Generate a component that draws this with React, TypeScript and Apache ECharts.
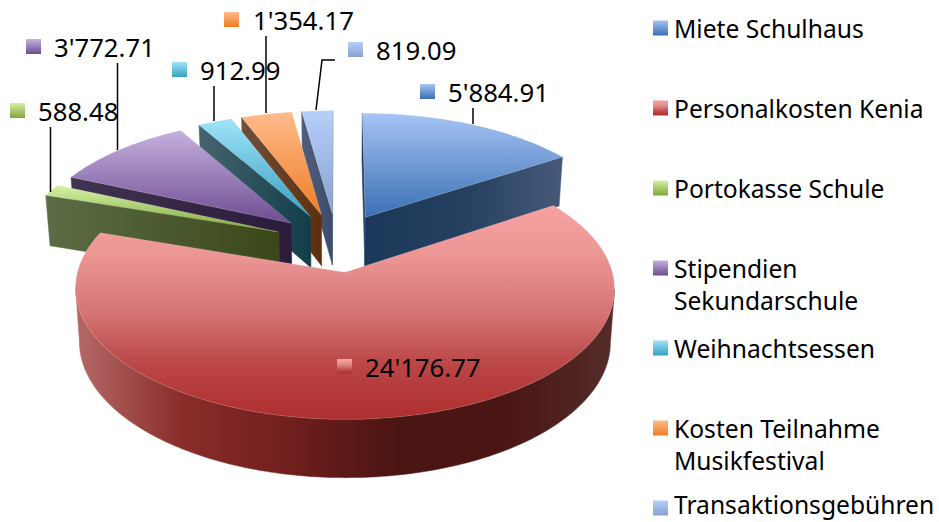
import React, { useEffect, useRef } from "react";
import * as echarts from "echarts";

const categories = ["Miete Schulhaus", "Personalkosten Kenia", "Portokasse Schule", "Stipendien Sekundarschule", "Weihnachtsessen", "Kosten Teilnahme Musikfestival", "Transaktionsgebühren"];
const legendLines = ["Miete Schulhaus", "Personalkosten Kenia", "Portokasse Schule", "Stipendien\nSekundarschule", "Weihnachtsessen", "Kosten Teilnahme\nMusikfestival", "Transaktionsgebühren"];
const values = [5884.91, 24176.77, 588.48, 3772.71, 912.99, 1354.17, 819.09];
const faceColors = [
  ["#a7c4f4", "#3a6fb4"], ["#f8a2a2", "#eb9494", "#d57474", "#bb4545", "#ae2e2e"], ["#d6f2a4", "#7fa63c"], ["#c5b0df", "#6f4c91"],
  ["#a0e3f9", "#36a0c0"], ["#ffbb8c", "#ee7d24"], ["#b7cff9", "#86a2d0"],
];
const wallColors: string[][] = [
  ["#1b3759", "#25405f", "#46597a"],
  ["#b56a68", "#8a2c2a", "#701f1d", "#4a1412", "#4a1614", "#552c2a"],
  ["#5c6c46", "#3a4718"], ["#413352", "#2b1b3b"], ["#46646f", "#113d49"], ["#70503b", "#5e2f0d"], ["#525f7c", "#3c4c6a"],
];
const paintOrder = [0, 6, 5, 4, 3, 2, 1];

// label layout: swatch x, swatch y, text x, leader points
const labelLayout: { sx: number; sy: number; tx: number; leader: number[][] }[] = [
  { sx: 420, sy: 84, tx: 448, leader: [[473, 108], [473, 124]] },
  { sx: 337, sy: 359, tx: 365, leader: [] },
  { sx: 10, sy: 103, tx: 38, leader: [[50.5, 127], [50.5, 192]] },
  { sx: 26, sy: 39, tx: 54, leader: [[117.5, 63], [117.5, 150]] },
  { sx: 172, sy: 62, tx: 200, leader: [[214, 86], [214, 121]] },
  { sx: 224, sy: 12, tx: 253, leader: [[266, 36], [266, 113]] },
  { sx: 348, sy: 42, tx: 376, leader: [[335, 60], [322, 60], [316, 110]] },
];

const FONT = '"Noto Sans", sans-serif';
const LABEL_FS = 25.7;
const LEGEND_FS = 24.6;
const LEGEND_LH = 32;
const CX = 336.5, CY = 242.5, RX = 260, RY = 122, K = 0.118, DEPTH = 52, EXPLODE = 0.24, BOTTOM_SCALE = 1.015;
const total = values.reduce((a, b) => a + b, 0);

const grad = (stops: string[], horizontal = false) =>
  new echarts.graphic.LinearGradient(0, 0, horizontal ? 1 : 0, horizontal ? 0 : 1,
    stops.map((color, i) => ({ offset: i / (stops.length - 1), color })));

const fmt = (v: number) => {
  const [a, b] = v.toFixed(2).split(".");
  return a.replace(/\B(?=(\d{3})+$)/g, "'") + "." + b;
};

const top = (u: number, v: number) => {
  const w = 1 + K * v;
  return [CX + (RX * u) / w, CY - (RY * v) / w];
};
const bottom = (u: number, v: number) => {
  const w = 1 + K * v;
  return [CX + (RX * u) / (w * BOTTOM_SCALE), CY - (RY * v) / (w * BOTTOM_SCALE) + DEPTH / w];
};

function sliceShapes(i: number) {
  const before = values.slice(0, i).reduce((a, b) => a + b, 0);
  const a0 = (before / total) * Math.PI * 2;
  const a1 = ((before + values[i]) / total) * Math.PI * 2;
  const mid = (a0 + a1) / 2;
  const ax = EXPLODE * Math.sin(mid), ay = EXPLODE * Math.cos(mid);
  const n = Math.max(6, Math.ceil(((a1 - a0) * 180) / Math.PI));
  const world: number[][] = [];
  for (let k = 0; k <= n; k++) {
    const t = a0 + ((a1 - a0) * k) / n;
    world.push([ax + Math.sin(t), ay + Math.cos(t)]);
  }
  const apex = [ax, ay];
  const children: any[] = [];
  const wall = (pts: number[][], fill: any) => {
    const poly = [...pts.map((p) => top(p[0], p[1])), ...pts.slice().reverse().map((p) => bottom(p[0], p[1]))];
    children.push({ type: "polygon", shape: { points: poly }, style: { fill, stroke: fill, lineWidth: 0.5 } });
  };
  const wg = grad(wallColors[i], true);
  const first = world[0], last = world[world.length - 1];
  if (top(first[0], first[1])[0] < top(apex[0], apex[1])[0]) wall([apex, first], wg);
  if (top(last[0], last[1])[0] > top(apex[0], apex[1])[0]) wall([last, apex], wg);
  const front: number[][] = [];
  for (let k = 0; k < world.length - 1; k++) {
    const x0 = top(world[k][0], world[k][1])[0], x1 = top(world[k + 1][0], world[k + 1][1])[0];
    if (x1 < x0) {
      if (!front.length) front.push(world[k]);
      front.push(world[k + 1]);
    }
  }
  if (front.length > 1) wall(front, wg);
  const pts = [top(apex[0], apex[1]), ...world.map((p) => top(p[0], p[1]))];
  children.push({
    type: "polygon",
    shape: { points: pts },
    style: { fill: grad(faceColors[i]), stroke: "rgba(255,255,255,0.25)", lineWidth: 0.6 },
  });
  return children;
}

const legendGraphics = legendLines.flatMap((text, i) => {
  const y = 28 + i * 80;
  const textY = Math.min(y, 504);
  return [
    { type: "rect", shape: { x: 653, y: y - 7.5, width: 15, height: 15 }, style: { fill: grad(faceColors[i]) } },
    { type: "text", x: 674, y: textY - LEGEND_LH / 2, style: { text, fontSize: LEGEND_FS, fontFamily: FONT, fill: "#000", lineHeight: LEGEND_LH, verticalAlign: "top", align: "left" } },
  ];
});

export default function App() {
  const ref = useRef<HTMLDivElement>(null);
  useEffect(() => {
    const chart = echarts.init(ref.current!, undefined, { renderer: "svg" });
    chart.setOption({
      animation: false,
      backgroundColor: "#fff",
      graphic: legendGraphics,
      series: [
        {
          type: "custom",
          coordinateSystem: "none",
          data: paintOrder.map((i) => ({ name: categories[i], value: [i, values[i]] })),
          renderItem: (_p: any, api: any) => ({ type: "group", children: sliceShapes(api.value(0)) }),
          silent: true,
          z: 2,
        },
        {
          type: "custom",
          coordinateSystem: "none",
          data: values.map((v, i) => ({ name: categories[i], value: [i, v] })),
          renderItem: (_p: any, api: any) => {
            const i = api.value(0);
            const l = labelLayout[i];
            const children: any[] = [];
            if (l.leader.length) children.push({ type: "polyline", shape: { points: l.leader }, style: { stroke: "#000", lineWidth: 1.5, fill: "none" } });
            children.push({ type: "rect", shape: { x: l.sx, y: l.sy, width: 15, height: 15 }, style: { fill: grad(faceColors[i]) } });
            children.push({ type: "text", x: l.tx, y: l.sy + 8, style: { text: fmt(api.value(1)), fontSize: LABEL_FS, fontFamily: FONT, fill: "#000", verticalAlign: "middle", align: "left" } });
            return { type: "group", children };
          },
          silent: true,
          z: 3,
        },
      ],
    });
    return () => chart.dispose();
  }, []);
  return <div ref={ref} style={{ position: "absolute", left: 0, top: 0, width: 939, height: 522 }} />;
}
